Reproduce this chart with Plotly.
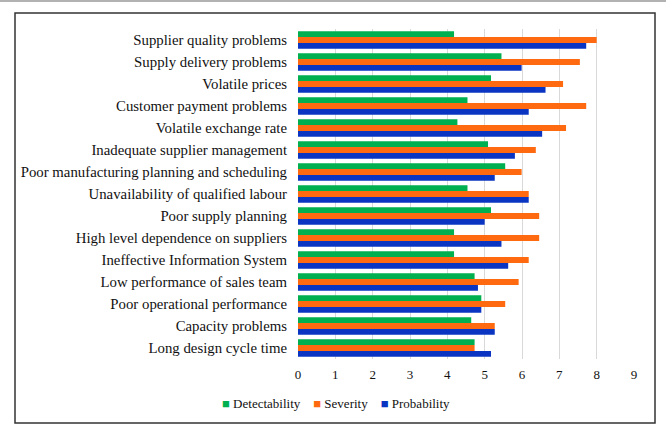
import plotly.graph_objects as go

categories = [
    "Supplier quality problems",
    "Supply delivery problems",
    "Volatile prices",
    "Customer payment problems",
    "Volatile exchange rate",
    "Inadequate supplier management",
    "Poor manufacturing planning and scheduling",
    "Unavailability of qualified labour",
    "Poor supply planning",
    "High level dependence on suppliers",
    "Ineffective Information System",
    "Low performance of sales team",
    "Poor operational performance",
    "Capacity problems",
    "Long design cycle time",
]
detectability = [4.18, 5.45, 5.17, 4.54, 4.27, 5.09, 5.55, 4.54, 5.17, 4.18, 4.18, 4.73, 4.91, 4.64, 4.73]
severity = [8.0, 7.55, 7.1, 7.72, 7.18, 6.37, 5.99, 6.18, 6.46, 6.46, 6.18, 5.91, 5.55, 5.27, 4.73]
probability = [7.72, 5.99, 6.63, 6.18, 6.54, 5.81, 5.27, 6.18, 5.0, 5.45, 5.63, 4.82, 4.91, 5.27, 5.17]
series_names = ["Detectability", "Severity", "Probability"]
series_colors = ["#00B050", "#FF6A10", "#0A35C2"]
x_ticks = list(range(0, 10))

FONT = "Liberation Serif"

fig = go.Figure()
for name, vals, col in zip(series_names, [detectability, severity, probability], series_colors):
    fig.add_trace(go.Bar(y=categories, x=vals, name=name, orientation="h",
                         marker=dict(color=col, line=dict(width=0)), showlegend=False))

L, R, T, B = 298, 32, 29, 71
W, H = 666, 430
pw, ph = W - L - R, H - T - B

def px(x):
    return (x - L) / pw

def py(y):
    return (H - B - y) / ph

legend_text = "&nbsp;&nbsp;&nbsp;&nbsp;".join(
    f'<span style="color:{c}">■</span>&nbsp;{n}' for n, c in zip(series_names, series_colors)
)

fig.update_layout(
    width=W, height=H,
    margin=dict(l=L, r=R, t=T, b=B),
    barmode="group", bargap=0.2, bargroupgap=0,
    paper_bgcolor="white", plot_bgcolor="white",
    font=dict(family=FONT, size=14, color="#111111"),
    xaxis=dict(range=[0, 9], tickvals=x_ticks, showgrid=True, gridcolor="#d9d9d9",
               gridwidth=1, zeroline=False, showline=False, ticks="",
               tickfont=dict(family=FONT, size=13), ticklabelstandoff=6),
    yaxis=dict(autorange="reversed", showgrid=False, zeroline=False, showline=False,
               ticks="", tickfont=dict(family=FONT, size=14.8), ticklabelstandoff=10),
    showlegend=False,
    annotations=[
        dict(xref="paper", yref="paper", x=px(336), y=py(403), xanchor="center", yanchor="middle",
             text=legend_text, showarrow=False, font=dict(family=FONT, size=13, color="#111111")),
    ],
    shapes=[
        dict(type="rect", xref="paper", yref="paper", x0=px(15), x1=px(655), y0=py(423), y1=py(13),
             line=dict(color="#333333", width=1.5), fillcolor="rgba(0,0,0,0)", layer="below"),
        dict(type="line", xref="paper", yref="paper", x0=px(0), x1=px(666), y0=py(1), y1=py(1),
             line=dict(color="#999999", width=1.5)),
    ],
)

fig.write_html("out.html")
